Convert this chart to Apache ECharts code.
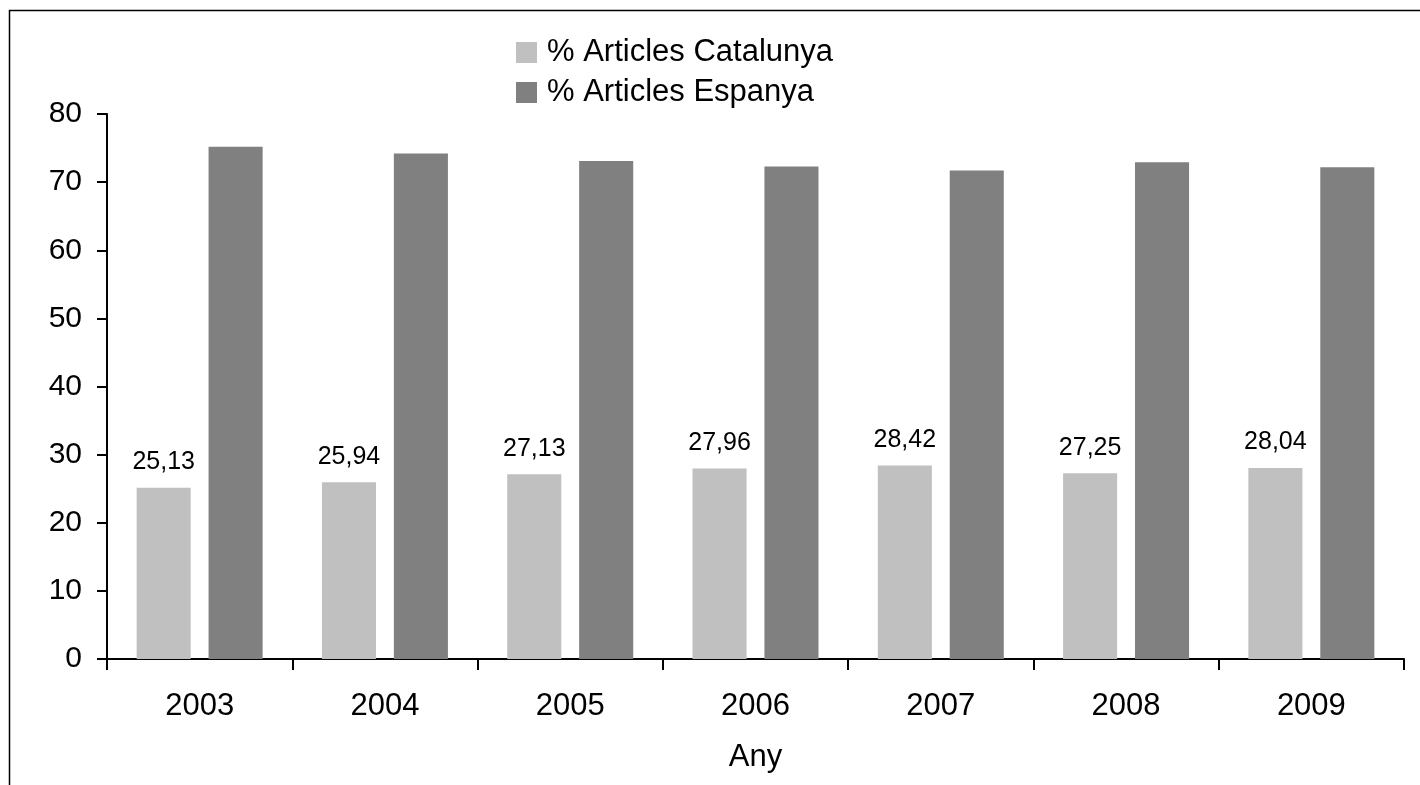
<!DOCTYPE html>
<html>
<head>
<meta charset="utf-8">
<script src="https://cdn.jsdelivr.net/npm/echarts@6/dist/echarts.min.js"></script>
<style>
html,body{margin:0;padding:0;background:#fff;}
#chart{width:1420px;height:785px;}
</style>
</head>
<body>
<div id="chart"></div>
<script>
const years = ['2003','2004','2005','2006','2007','2008','2009'];
const catalunya = [25.13, 25.94, 27.13, 27.96, 28.42, 27.25, 28.04];
const espanya = [75.2, 74.2, 73.1, 72.3, 71.7, 72.9, 72.2];
const seriesNames = ['% Articles Catalunya', '% Articles Espanya'];
const yTicks = [0, 10, 20, 30, 40, 50, 60, 70, 80];

const font = '"Liberation Sans", Arial, sans-serif';
const chart = echarts.init(document.getElementById('chart'), null, {renderer: 'canvas'});
chart.setOption({
  animation: false,
  backgroundColor: '#fff',
  graphic: [{
    type: 'rect', silent: true, z: 100,
    shape: {x: 9.5, y: 10.5, width: 1430, height: 800},
    style: {fill: 'none', stroke: '#000', lineWidth: 1.5}
  }],
  legend: {
    orient: 'vertical',
    left: 516, top: 37,
    itemWidth: 21, itemHeight: 21, itemGap: 9,
    icon: 'rect',
    textStyle: {fontFamily: font, fontSize: 31, color: '#000', padding: [0,0,0,5]},
    padding: 0,
    data: seriesNames
  },
  grid: {left: 107, right: 16, top: 114, bottom: 126, containLabel: false},
  xAxis: {
    type: 'category',
    data: years,
    name: 'Any',
    nameLocation: 'middle',
    nameGap: 83,
    nameTextStyle: {fontFamily: font, fontSize: 31, color: '#000'},
    axisLine: {lineStyle: {color: '#000', width: 2}},
    axisTick: {show: true, length: 11, alignWithLabel: false, lineStyle: {color: '#000', width: 2}},
    axisLabel: {fontFamily: font, fontSize: 31, color: '#000', margin: 32}
  },
  yAxis: {
    type: 'value',
    min: yTicks[0], max: yTicks[yTicks.length-1], interval: 10,
    axisLine: {show: true, lineStyle: {color: '#000', width: 2}},
    axisTick: {show: true, length: 10, lineStyle: {color: '#000', width: 2}},
    splitLine: {show: false},
    axisLabel: {fontFamily: font, fontSize: 30, color: '#000', margin: 25}
  },
  series: [
    {
      name: seriesNames[0], type: 'bar', data: catalunya,
      itemStyle: {color: '#c0c0c0'},
      barGap: '33%', barCategoryGap: '32%',
      label: {
        show: true, position: 'top', distance: 13,
        fontFamily: font, fontSize: 25, color: '#000',
        formatter: p => p.value.toFixed(2).replace('.', ',')
      }
    },
    {
      name: seriesNames[1], type: 'bar', data: espanya,
      itemStyle: {color: '#808080'},
      barGap: '33%', barCategoryGap: '32%'
    }
  ]
});
</script>
</body>
</html>
